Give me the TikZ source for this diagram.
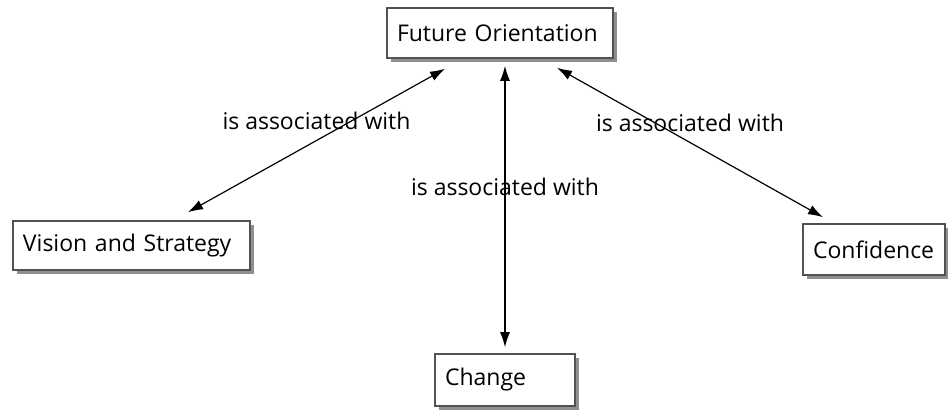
\documentclass[tikz,border=0pt]{standalone}
\usepackage{fontspec}
\setmainfont{Open Sans}
\usepackage{tikz}
\usetikzlibrary{
	shadows, arrows.meta,
	calc
}

\begin{document}
\begin{tikzpicture}[
	x = 1pt, y = 1pt,
	concepto/.style = {
		draw = black!68, line width = 1.6pt, fill = white,
		inner xsep = 10pt, inner ysep = 0pt, align = left,
		font = \fontsize{23}{27}\selectfont,
		drop shadow = {shadow xshift = 4pt, shadow yshift = -4pt,
			fill = black!55, opacity = 0.8},
	},
	enlace/.style = {
		line width = 1.2pt,
		{Latex[length = 15pt, width = 10pt]}-{Latex[length = 15pt, width = 10pt]},
	},
	etiqueta/.style = {font = \fontsize{23}{27}\selectfont, yshift = 20pt},
]

	% márgenes del dibujo
	\useasboundingbox (0,0) rectangle (948,411);

	% conceptos
	\node[concepto, text width = 206pt, minimum height = 50pt]
		(fo) at (500,378) {Future Orientation};
	\node[concepto, text width = 217pt, minimum height = 49pt]
		(vs) at (131.5,165.5) {Vision and Strategy};
	\node[concepto, text width = 122pt, minimum height = 51pt]
		(cf) at (874,161.5) {Confidence};
	\node[concepto, text width = 120pt, minimum height = 52pt]
		(ch) at (505,31) {Change};

	% enlaces
	\draw[enlace]
		([shift = {(-55,-10)}]fo.south)
			-- node[etiqueta] (l1) {is associated with}
		([shift = {(56.5,8)}]vs.north);

	\draw[enlace]
		([shift = {(5,-7)}]fo.south)
			-- node[etiqueta] (l2) {is associated with}
		([shift = {(0,6)}]ch.north);

	\draw[enlace]
		([shift = {(57,-9)}]fo.south)
			-- node[etiqueta] (l3) {is associated with}
		([shift = {(-51,6)}]cf.north);

\end{tikzpicture}
\end{document}
